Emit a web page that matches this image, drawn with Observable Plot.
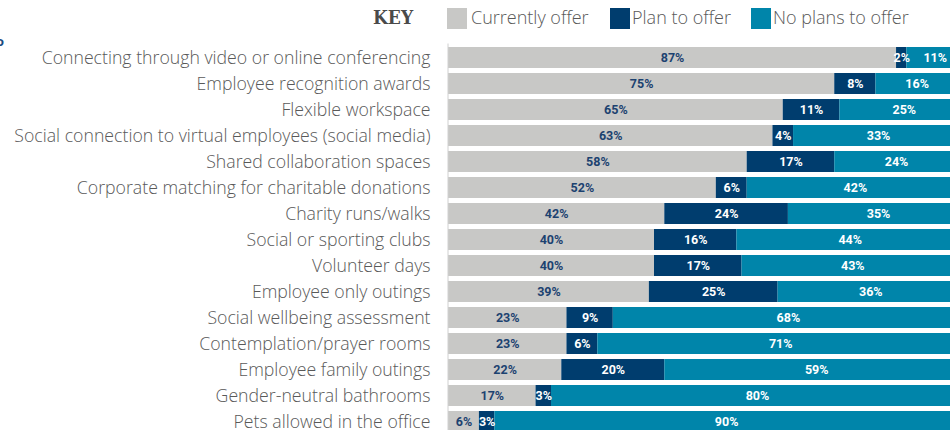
<!DOCTYPE html>
<html><head><meta charset="utf-8">
<script src="https://cdn.jsdelivr.net/npm/d3@7"></script>
<script src="https://cdn.jsdelivr.net/npm/@observablehq/plot@0.6"></script>
<style>
html,body{margin:0;padding:0;background:#fff;overflow:hidden;width:950px;height:430px;}
#wrap{position:relative;width:950px;height:430px;overflow:hidden;}
#chart{position:absolute;left:0;top:0;}
.lg{position:absolute;white-space:nowrap;}
.key{left:373px;top:5px;font-family:"DejaVu Serif Condensed","DejaVu Serif",serif;font-stretch:condensed;font-weight:bold;font-size:19px;color:#4a4a4a;line-height:24px;}
.sw{width:20px;height:21px;top:8px;}
.lt{top:5px;font-family:"Open Sans",sans-serif;font-weight:300;font-size:18px;color:#595959;line-height:24px;}
.frag{left:-4px;top:32px;font-family:"Open Sans",sans-serif;font-weight:bold;font-size:13px;color:#1c4a80;}
</style></head><body><div id="wrap"><div id="chart"></div></div>
<script>
const categories = [
  "Connecting through video or online conferencing",
  "Employee recognition awards",
  "Flexible workspace",
  "Social connection to virtual employees (social media)",
  "Shared collaboration spaces",
  "Corporate matching for charitable donations",
  "Charity runs/walks",
  "Social or sporting clubs",
  "Volunteer days",
  "Employee only outings",
  "Social wellbeing assessment",
  "Contemplation/prayer rooms",
  "Employee family outings",
  "Gender-neutral bathrooms",
  "Pets allowed in the office"
];
const series = ["Currently offer", "Plan to offer", "No plans to offer"];
const currentlyOffer = [87, 75, 65, 63, 58, 52, 42, 40, 40, 39, 23, 23, 22, 17, 6];
const planToOffer    = [2, 8, 11, 4, 17, 6, 24, 16, 17, 25, 9, 6, 20, 3, 3];
const noPlansToOffer = [11, 16, 25, 33, 24, 42, 35, 44, 43, 36, 68, 71, 59, 80, 90];
const colors = ["#c8c8c6", "#003d6e", "#0085aa"];
const labelColors = ["#1c4270", "#ffffff", "#ffffff"];

const seriesValues = [currentlyOffer, planToOffer, noPlansToOffer];
const rows = [];
categories.forEach((c, i) => {
  series.forEach((s, j) => {
    rows.push({category: c, series: s, value: seriesValues[j][i], labelColor: labelColors[j]});
  });
});

const plot = Plot.plot({
  width: 950,
  height: 436,
  marginLeft: 448,
  marginRight: -13,
  marginTop: 43.5,
  marginBottom: 0,
  style: {fontFamily: "'Open Sans', sans-serif", fontSize: "17.7px", color: "#595959", background: "#fff", overflow: "hidden"},
  x: {domain: [0, 100], axis: null},
  y: {domain: categories, paddingInner: 0.2, paddingOuter: 0.1, label: null, tickSize: 0, tickPadding: 18},
  color: {domain: series, range: colors},
  marks: [
    Plot.barX(rows, Plot.stackX({x: "value", y: "category", fill: "series", order: series})),
    Plot.ruleX([0], {stroke: "#d0d0d0", strokeWidth: 1, dx: -0.5}),
    Plot.text(rows, Plot.stackX({
      x: "value", y: "category", z: "series", order: series,
      text: d => d.value + "%",
      fill: "labelColor",
      fontFamily: "Roboto, sans-serif",
      fontWeight: "bold",
      fontSize: 12.5
    }))
  ]
});
plot.querySelectorAll("[aria-label='y-axis tick label'] text, [aria-label='y-axis'] text").forEach(t => {
  t.setAttribute("font-weight", "300");
});
document.getElementById("chart").appendChild(plot);

// legend
const wrap = document.getElementById("wrap");
function add(cls, text, styles) {
  const el = document.createElement("div");
  el.className = "lg " + cls;
  if (text) el.textContent = text;
  Object.assign(el.style, styles || {});
  wrap.appendChild(el);
  return el;
}
add("key", "KEY");
const swX = [447, 610, 751];
const txtX = [471, 632, 773];
series.forEach((s, j) => {
  add("sw", "", {left: swX[j] + "px", background: colors[j]});
  add("lt", s, {left: txtX[j] + "px"});
});
add("frag", "o");
</script></body></html>
